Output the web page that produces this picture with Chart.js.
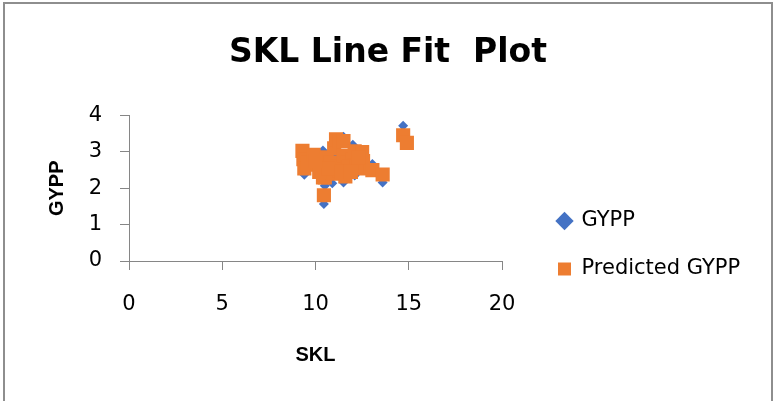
<!DOCTYPE html>
<html>
<head>
<meta charset="utf-8">
<script src="https://cdn.jsdelivr.net/npm/chart.js@4"></script>
<style>
  html, body { margin: 0; padding: 0; background: #fff; }
  #frame { position: absolute; left: 3px; top: 2px; width: 766px; height: 420px; border: 2px solid #8e8e8e; }
  #c { position: absolute; left: 0; top: 0; }
</style>
</head>
<body>
<div id="frame"></div>
<canvas id="c" width="774" height="401"></canvas>
<script>
// SKL values (x) with observed and predicted GYPP (y)
const skl = [9.3, 9.35, 9.4, 9.6, 9.9, 10.1, 10.4, 10.45, 10.5, 10.6, 10.8, 10.9, 11.0, 11.1, 11.2,
             11.3, 11.3, 11.5, 11.5, 11.6, 11.7, 12.0, 12.1, 12.5, 12.5, 12.55, 13.05, 13.6, 14.7, 14.9,
             10.2, 10.7, 11.8, 12.2, 10.0, 11.4, 11.9, 12.3];
const gypp = [2.9, 2.7, 2.37, 2.75, 2.6, 2.8, 3.04, 1.57, 2.07, 2.6, 2.5, 2.14, 2.9, 3.0, 2.7,
              2.8, 2.6, 3.42, 2.16, 2.5, 2.9, 3.2, 2.35, 2.8, 2.7, 2.9, 2.67, 2.16, 3.72, 3.3,
              2.5, 2.6, 2.7, 2.6, 2.8, 2.5, 2.55, 2.9];
const predicted = [3.03, 2.8, 2.55, 2.7, 2.92, 2.65, 2.3, 1.81, 2.3, 2.85, 2.7, 2.4, 3.1, 3.35, 2.6,
                   3.3, 2.5, 3.3, 2.9, 2.33, 2.7, 2.8, 3.02, 3.0, 2.55, 2.75, 2.5, 2.38, 3.46, 3.25,
                   2.45, 2.55, 2.6, 2.6, 2.75, 2.45, 2.45, 2.85];
const seriesNames = ['GYPP', 'Predicted GYPP'];
const chartTitle = 'SKL Line Fit  Plot';
const xTitle = 'SKL';
const yTitle = 'GYPP';

const axisColor = '#868686';

// move legend and title to where excel put them
const boxShift = {
    id: 'boxShift',
    beforeDraw(chart) {
        const lg = chart.legend;
        lg.left = 531;
        lg.right = 774;
        lg.width = 243;
        lg.top = 100;
        lg.bottom = 390;
        lg.height = 290;
        const t = chart.titleBlock;
        t.left = 2;
        t.right = 774;
        t.width = 772;
    }
};

new Chart(document.getElementById('c'), {
    type: 'scatter',
    data: {
        datasets: [
            {
                label: seriesNames[0],
                data: skl.map((x, i) => ({x: x, y: gypp[i]})),
                pointStyle: 'rectRot',
                pointRadius: 5,
                pointHoverRadius: 5,
                backgroundColor: '#4472C4',
                borderColor: '#4472C4',
                borderWidth: 0,
                order: 2
            },
            {
                label: seriesNames[1],
                data: skl.map((x, i) => ({x: x, y: predicted[i]})),
                pointStyle: 'rect',
                pointRadius: 10,
                pointHoverRadius: 10,
                backgroundColor: '#ED7D31',
                borderColor: '#ED7D31',
                borderWidth: 0,
                order: 1
            }
        ]
    },
    options: {
        responsive: false,
        animation: false,
        layout: { padding: { top: 10, left: 40, bottom: 30, right: 118 } },
        scales: {
            x: {
                type: 'linear',
                min: 0,
                max: 20,
                ticks: { stepSize: 5, color: '#000', padding: 22, font: { family: 'DejaVu Sans', size: 21 } },
                grid: { drawOnChartArea: false, drawTicks: true, tickLength: 9, color: axisColor },
                border: { color: axisColor, width: 1 },
                title: { display: true, text: xTitle, color: '#000', padding: { top: 4, bottom: 4 },
                         font: { family: 'Liberation Sans', size: 20, weight: 'bold' } },
                afterFit(scale) { scale.height = 110; }
            },
            y: {
                min: 0,
                max: 4,
                ticks: { stepSize: 1, color: '#000', padding: 18, font: { family: 'DejaVu Sans', size: 21 } },
                grid: { drawOnChartArea: false, drawTicks: true, tickLength: 9, color: axisColor },
                border: { color: axisColor, width: 1 },
                title: { display: true, text: yTitle, color: '#000', padding: { top: 5, bottom: 4 },
                         font: { family: 'Liberation Sans', size: 20, weight: 'bold' } },
                afterFit(scale) { scale.width = 89; }
            }
        },
        plugins: {
            title: {
                display: true,
                text: chartTitle,
                color: '#000',
                padding: { top: 24, bottom: 42 },
                font: { family: 'DejaVu Sans', size: 33, weight: 'bold' }
            },
            legend: {
                position: 'right',
                labels: {
                    usePointStyle: true,
                    boxWidth: 13,
                    boxHeight: 13,
                    padding: 27,
                    color: '#000',
                    font: { family: 'DejaVu Sans', size: 21 },
                    sort: (a, b) => a.datasetIndex - b.datasetIndex
                }
            },
            tooltip: { enabled: false }
        }
    },
    plugins: [boxShift]
});
</script>
</body>
</html>
